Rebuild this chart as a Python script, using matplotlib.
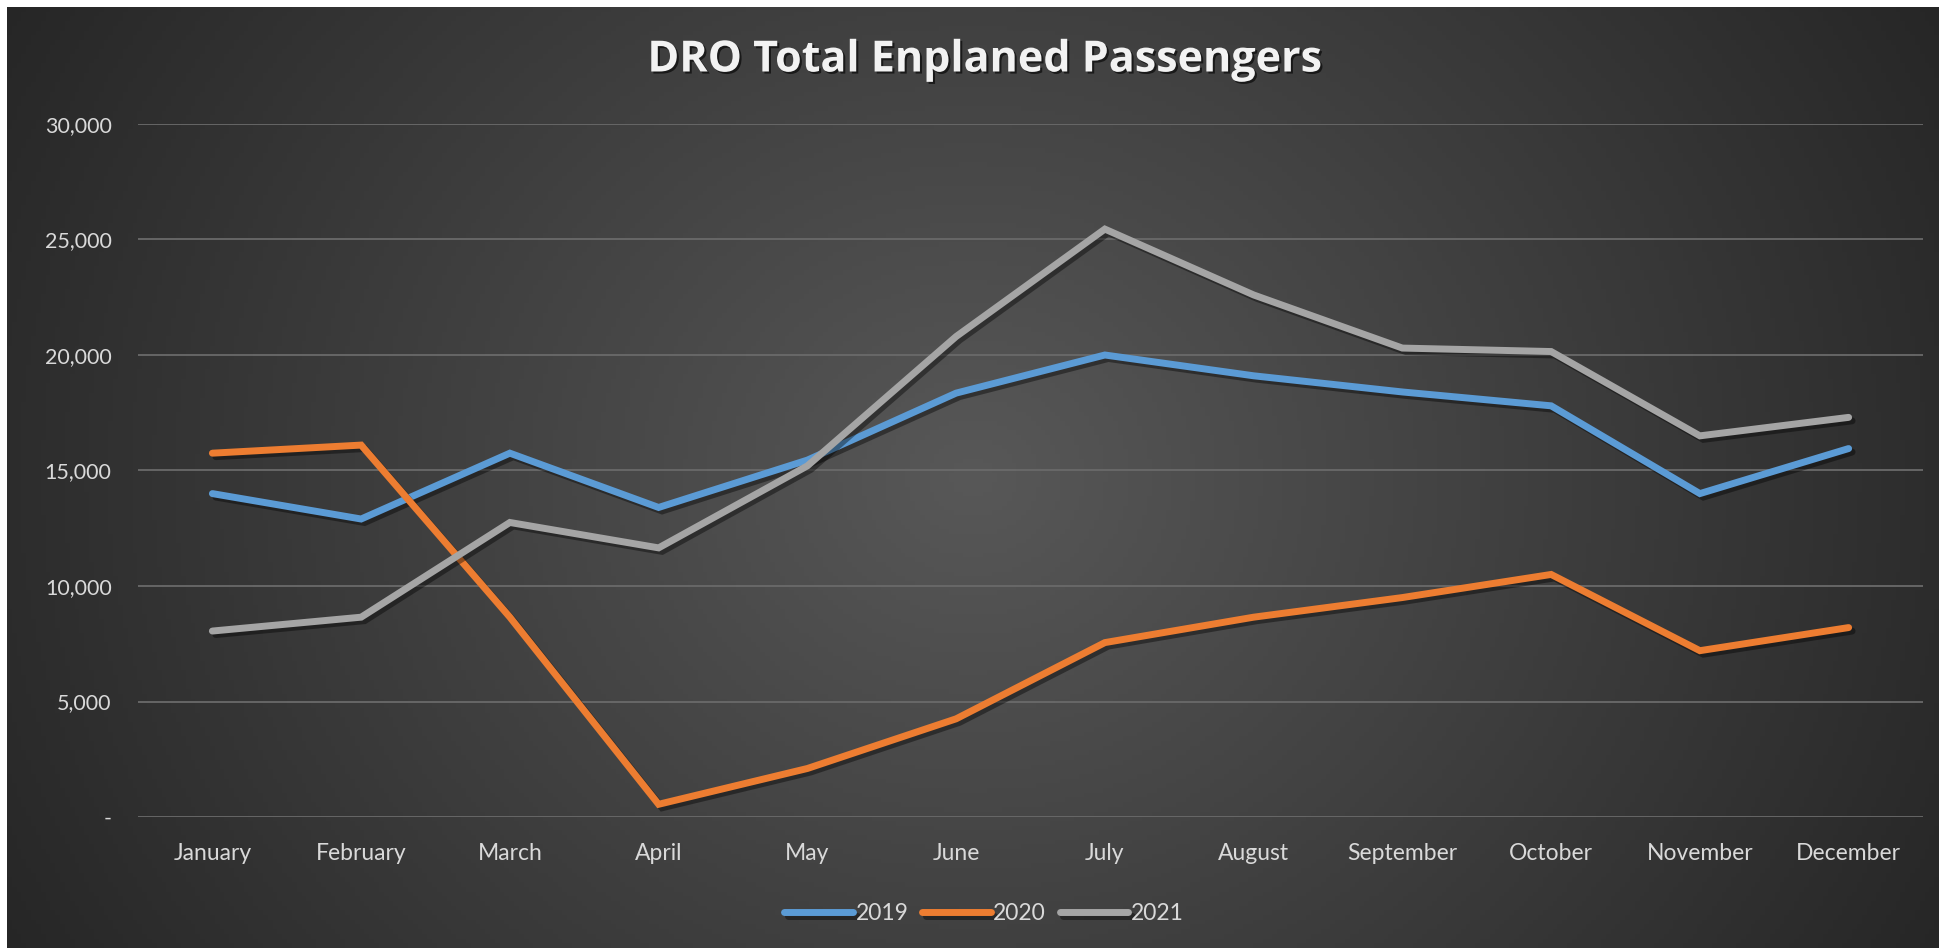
import numpy as np
import matplotlib
matplotlib.use("Agg")
import matplotlib.pyplot as plt
import matplotlib.patheffects as pe

months = ["January", "February", "March", "April", "May", "June", "July",
          "August", "September", "October", "November", "December"]
y2019 = [14000, 12900, 15750, 13400, 15450, 18350, 20000, 19100, 18400, 17800, 14000, 15950]
y2020 = [15750, 16100, 8650, 550, 2100, 4250, 7550, 8650, 9500, 10500, 7200, 8200]
y2021 = [8050, 8650, 12750, 11650, 15200, 20800, 25450, 22600, 20300, 20150, 16500, 17300]
series = [("2019", y2019, "#5B9BD5"), ("2020", y2020, "#ED7D31"), ("2021", y2021, "#A5A5A5")]
yticks = [0, 5000, 10000, 15000, 20000, 25000, 30000]
ytick_labels = ["-", "5,000", "10,000", "15,000", "20,000", "25,000", "30,000"]

W, H = 1939, 948
fig = plt.figure(figsize=(W / 100, H / 100), dpi=100, facecolor="white")
plt.rcParams['font.family'] = ['Lato', 'DejaVu Sans']

# background with radial gradient
x0, y0 = 7, 7
bg = fig.add_axes([x0 / W, 0, 1 - x0 / W, 1 - y0 / H])
bg.set_axis_off()
nx, ny = 400, 200
gx = np.linspace(-1, 1, nx)
gy = np.linspace(-1, 1, ny)
XX, YY = np.meshgrid(gx, gy)
R = np.sqrt((XX * 1.0) ** 2 + (YY * 0.55) ** 2)
R = np.clip(R / 1.15, 0, 1)
c_center = np.array([0x58, 0x58, 0x58]) / 255
c_edge = np.array([0x26, 0x26, 0x26]) / 255
img = c_center[None, None, :] * (1 - R[..., None]) + c_edge[None, None, :] * R[..., None]
bg.imshow(img, aspect="auto", extent=[0, 1, 0, 1], origin="lower")
bg.set_xlim(0, 1)
bg.set_ylim(0, 1)

# plot axes
left, right = 138, 1923
top, bottom = 124, 817
ax = fig.add_axes([left / W, 1 - bottom / H, (right - left) / W, (bottom - top) / H])
ax.patch.set_alpha(0)
for s in ax.spines.values():
    s.set_visible(False)

x = np.arange(len(months))
for name, vals, col in series:
    ax.plot(x, vals, color=col, lw=5, label=name, solid_capstyle="round",
            solid_joinstyle="miter",
            path_effects=[pe.SimpleLineShadow(offset=(2.5, -2.5), shadow_color="black", alpha=0.4),
                          pe.Normal()], zorder=3)

ax.set_xlim(-0.5, len(months) - 0.5)
ax.set_ylim(0, 30000)
ax.set_yticks(yticks)
ax.set_yticklabels(ytick_labels)
ax.set_xticks(x)
ax.set_xticklabels(months)
ax.tick_params(axis="both", length=0, colors="#D9D9D9")
ax.tick_params(axis="y", pad=19, labelsize=15.5)
ax.tick_params(axis="x", pad=19, labelsize=16.5)
ax.grid(axis="y", color="#6A6A6A", lw=1.3, zorder=0)
ax.set_axisbelow(True)

fig.text(0.5075, 1 - 60 / H, "DRO Total Enplaned Passengers", ha="center", va="center",
         fontsize=31, fontweight="bold", color="#F2F2F2", family=["Open Sans", "DejaVu Sans"],
         path_effects=[pe.withSimplePatchShadow(offset=(1.5, -1.5), shadow_rgbFace="black", alpha=0.6)])

leg = ax.legend(loc="center", bbox_to_anchor=(0.5075 * W / (right - left) - left / (right - left), -(914 - bottom) / (bottom - top)),
                ncol=3, frameon=False, fontsize=16.5, handlelength=3.0, handletextpad=0.1,
                columnspacing=0.6)
for t in leg.get_texts():
    t.set_color("#D9D9D9")

fig.savefig("out.png", dpi=100, facecolor="white")
